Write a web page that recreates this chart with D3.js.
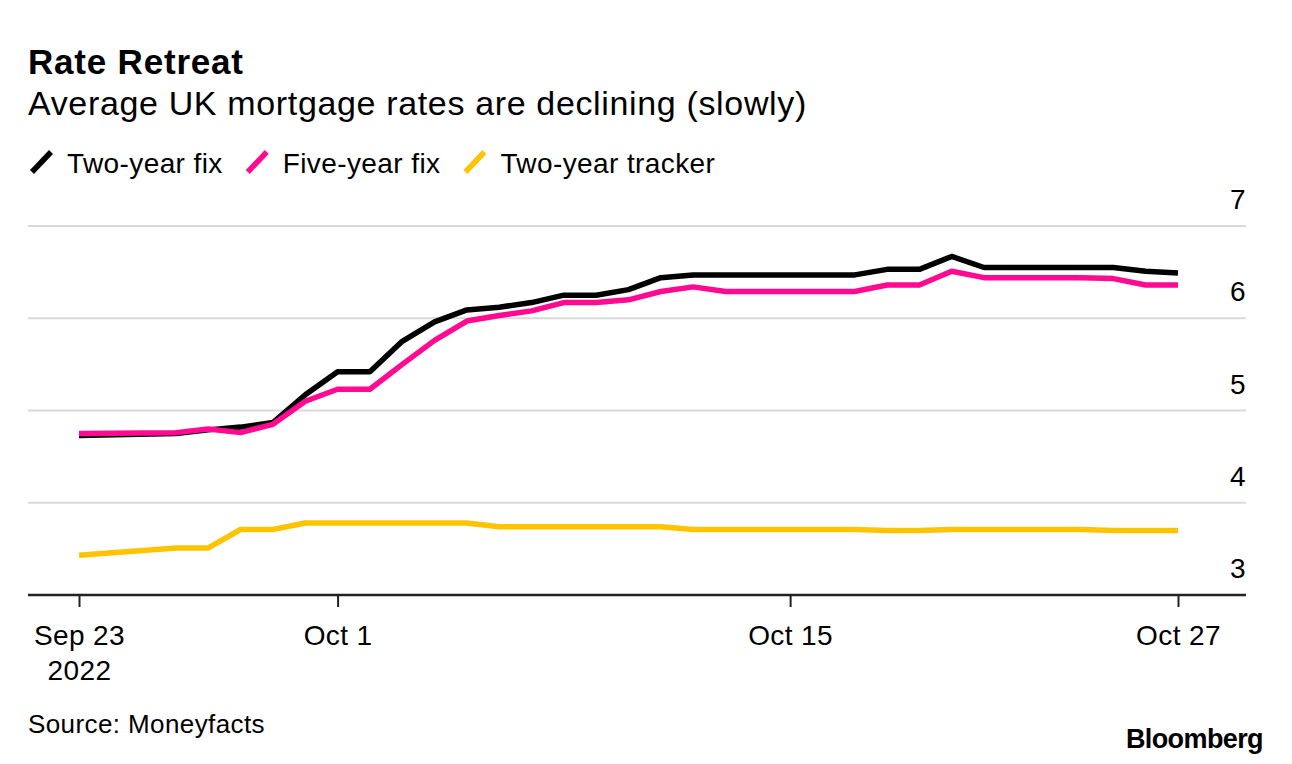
<!DOCTYPE html>
<html>
<head>
<meta charset="utf-8">
<script src="https://cdn.jsdelivr.net/npm/d3@7"></script>
<style>
  body { margin: 0; background: #fff; }
  svg { display: block; font-family: "Liberation Sans", Arial, sans-serif; }
  .ttl { font-size: 35px; font-weight: bold; letter-spacing: 0.8px; }
  .sub { font-size: 34px; letter-spacing: 0.65px; }
  .lbl { font-size: 28px; letter-spacing: 0.4px; }
</style>
</head>
<body>
<div id="chart-area"></div>
<script>
const width = 1292;
const height = 764;

// daily readings (no points for Sep 24-25)
const dates = ["2022-09-23", "2022-09-26", "2022-09-27", "2022-09-28", "2022-09-29", "2022-09-30",
    "2022-10-01", "2022-10-02", "2022-10-03", "2022-10-04", "2022-10-05", "2022-10-06", "2022-10-07",
    "2022-10-08", "2022-10-09", "2022-10-10", "2022-10-11", "2022-10-12", "2022-10-13", "2022-10-14",
    "2022-10-15", "2022-10-16", "2022-10-17", "2022-10-18", "2022-10-19", "2022-10-20", "2022-10-21",
    "2022-10-22", "2022-10-23", "2022-10-24", "2022-10-25", "2022-10-26", "2022-10-27"];

const twoYearFix = [4.73, 4.75, 4.79, 4.82, 4.87, 5.17, 5.42, 5.42, 5.75, 5.96, 6.09, 6.12, 6.17,
    6.25, 6.25, 6.31, 6.44, 6.47, 6.47, 6.47, 6.47, 6.47, 6.47, 6.53, 6.53, 6.67, 6.55,
    6.55, 6.55, 6.55, 6.55, 6.51, 6.49];

const fiveYearFix = [4.75, 4.76, 4.80, 4.76, 4.85, 5.10, 5.23, 5.23, 5.50, 5.76, 5.97, 6.03, 6.08,
    6.17, 6.17, 6.20, 6.29, 6.34, 6.29, 6.29, 6.29, 6.29, 6.29, 6.36, 6.36, 6.51, 6.44,
    6.44, 6.44, 6.44, 6.43, 6.36, 6.36];

const twoYearTracker = [3.43, 3.51, 3.51, 3.71, 3.71, 3.78, 3.78, 3.78, 3.78, 3.78, 3.78, 3.74, 3.74,
    3.74, 3.74, 3.74, 3.74, 3.71, 3.71, 3.71, 3.71, 3.71, 3.71, 3.70, 3.70, 3.71, 3.71,
    3.71, 3.71, 3.71, 3.70, 3.70, 3.70];

const seriesNames = ["Two-year fix", "Five-year fix", "Two-year tracker"];
const seriesColors = ["#000000", "#ff0a91", "#ffc300"];
const yTicks = [3, 4, 5, 6, 7];
const xTicks = ["2022-09-23", "2022-10-01", "2022-10-15", "2022-10-27"];

const parse = d3.timeParse("%Y-%m-%d");

const svg = d3.select("#chart-area")
    .append("svg")
    .attr("width", width)
    .attr("height", height);

const left = 28, right = 1246;

const x = d3.scaleTime()
    .domain([parse("2022-09-23"), parse("2022-10-27")])
    .range([79, 1178]);

const y = d3.scaleLinear()
    .domain([3, 7])
    .range([595, 226]);

// titles
svg.append("text").attr("class", "ttl").attr("x", 28).attr("y", 74).text("Rate Retreat");
svg.append("text").attr("class", "sub").attr("x", 28).attr("y", 115)
    .text("Average UK mortgage rates are declining (slowly)");

// legend
let lx = 30;
seriesNames.forEach((name, i) => {
    svg.append("line")
        .attr("x1", lx + 2).attr("y1", 172)
        .attr("x2", lx + 21).attr("y2", 152)
        .attr("stroke", seriesColors[i])
        .attr("stroke-width", 5.5);
    const t = svg.append("text").attr("class", "lbl")
        .attr("x", lx + 37).attr("y", 173).text(name);
    lx += 37 + t.node().getComputedTextLength() + 23;
});

// gridlines
svg.append("g")
    .selectAll("line")
    .data(yTicks.filter(d => d > 3))
    .join("line")
    .attr("x1", left).attr("x2", right)
    .attr("y1", d => y(d)).attr("y2", d => y(d))
    .attr("stroke", "#dadada")
    .attr("stroke-width", 2);

// y labels, above each gridline at the right
svg.append("g")
    .selectAll("text")
    .data(yTicks)
    .join("text")
    .attr("class", "lbl")
    .attr("x", right)
    .attr("y", d => y(d) - 17)
    .attr("text-anchor", "end")
    .text(d => d);

// lines
const line = d3.line()
    .x((d, i) => x(parse(dates[i])))
    .y(d => y(d));

[twoYearTracker, twoYearFix, fiveYearFix].forEach((vals, k) => {
    const col = [seriesColors[2], seriesColors[0], seriesColors[1]][k];
    svg.append("path")
        .datum(vals)
        .attr("fill", "none")
        .attr("stroke", col)
        .attr("stroke-width", 5.5)
        .attr("stroke-linejoin", "round")
        .attr("d", line);
});

// x axis
svg.append("line")
    .attr("x1", left).attr("x2", right)
    .attr("y1", y(3)).attr("y2", y(3))
    .attr("stroke", "#222")
    .attr("stroke-width", 2.5);

const xAxis = svg.append("g")
    .attr("transform", `translate(0, ${y(3)})`)
    .call(d3.axisBottom(x)
        .tickValues(xTicks.map(parse))
        .tickSize(12)
        .tickSizeOuter(0)
        .tickPadding(38)
        .tickFormat(d3.timeFormat("%b %-d")));

xAxis.select(".domain").remove();
xAxis.selectAll(".tick line").attr("stroke", "#222").attr("stroke-width", 2);
xAxis.selectAll(".tick text")
    .attr("class", "lbl")
    .attr("dy", null)
    .attr("y", 50)
    .attr("font-family", null)
    .attr("font-size", null)
    .attr("fill", "#000");
xAxis.select(".tick text").append("tspan")
    .attr("x", 0).attr("dy", 35).text("2022");
xAxis.attr("font-family", null).attr("font-size", null);

// footer
svg.append("text").attr("class", "lbl").style("font-size", "26px")
    .attr("x", 28).attr("y", 733).text("Source: Moneyfacts");
svg.append("text").style("font-size", "27px").style("font-weight", "bold")
    .style("letter-spacing", "-0.6px")
    .attr("x", 1263).attr("y", 748).attr("text-anchor", "end").text("Bloomberg");
</script>
</body>
</html>
